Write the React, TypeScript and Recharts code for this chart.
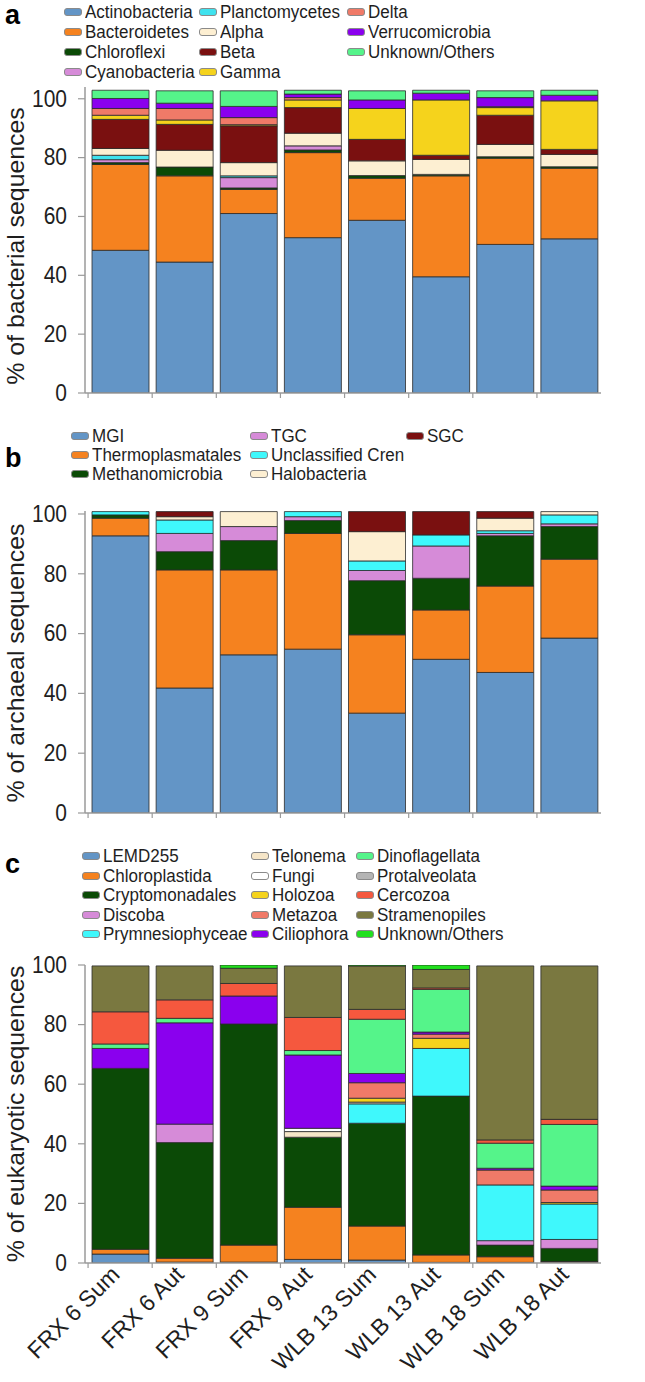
import React from 'react';
import { BarChart, Bar, XAxis, YAxis } from 'recharts';

const samples = ['FRX 6 Sum', 'FRX 6 Aut', 'FRX 9 Sum', 'FRX 9 Aut', 'WLB 13 Sum', 'WLB 13 Aut', 'WLB 18 Sum', 'WLB 18 Aut'];
const yTicks = [0, 20, 40, 60, 80, 100];

// ---- Panel a: bacteria ----
const bacteriaNames = ['Actinobacteria', 'Bacteroidetes', 'Chloroflexi', 'Cyanobacteria', 'Planctomycetes', 'Alpha', 'Beta', 'Gamma', 'Delta', 'Verrucomicrobia', 'Unknown/Others'];
const bacteriaColors = ['#6395c6', '#f5821f', '#0b4a06', '#d68bd8', '#3fe2ee', '#fdefd2', '#7a1010', '#f5d31c', '#f07a68', '#8a00ee', '#55f48a'];
const actinobacteria = [48.5, 44.5, 61.0, 52.8, 58.7, 39.5, 50.5, 52.4];
const bacteroidetes = [29.2, 29.3, 8.2, 28.9, 14.3, 34.3, 29.3, 24.0];
const chloroflexi = [0.6, 3.0, 0.5, 0.9, 0.9, 0.5, 0.5, 0.5];
const cyanobacteria = [1.0, 0, 3.5, 1.4, 0, 0, 0, 0];
const planctomycetes = [1.5, 0, 0.6, 0, 0, 0, 0, 0];
const alpha = [2.3, 5.7, 4.5, 4.3, 5.0, 5.1, 4.2, 4.2];
const beta = [9.9, 8.8, 12.5, 8.7, 7.3, 1.4, 9.9, 1.7];
const gamma = [1.4, 1.5, 0.4, 2.6, 10.5, 18.8, 2.6, 16.5];
const delta = [2.3, 3.9, 2.4, 0.8, 0, 0, 0.3, 0];
const verrucomicrobia = [3.4, 1.8, 3.8, 1.2, 2.9, 2.3, 3.1, 1.9];
const unknownBacteria = [2.8, 4.2, 5.3, 1.3, 3.1, 1.0, 2.3, 1.7];
const bacteriaValues = [actinobacteria, bacteroidetes, chloroflexi, cyanobacteria, planctomycetes, alpha, beta, gamma, delta, verrucomicrobia, unknownBacteria];

// ---- Panel b: archaea ----
const archaeaNames = ['MGI', 'Thermoplasmatales', 'Methanomicrobia', 'TGC', 'Unclassified Cren', 'Halobacteria', 'SGC'];
const archaeaColors = ['#6395c6', '#f5821f', '#0b4a06', '#d68bd8', '#3ff8fc', '#fdefd2', '#7a1010'];
const mgi = [92.7, 41.8, 52.9, 54.8, 33.4, 51.4, 47.0, 58.5];
const thermoplasmatales = [5.9, 39.5, 28.4, 38.7, 26.2, 16.5, 28.9, 26.4];
const methanomicrobia = [1.1, 6.1, 9.8, 4.3, 18.1, 10.6, 16.8, 10.9];
const tgc = [0, 6.1, 4.7, 1.3, 3.4, 10.8, 0.8, 0.9];
const unclassifiedCren = [1.1, 4.5, 0, 1.7, 3.2, 3.7, 0.9, 3.0];
const halobacteria = [0, 1.1, 5.0, 0, 9.8, 0, 4.2, 1.1];
const sgc = [0, 1.7, 0, 0, 6.7, 7.8, 2.2, 0];
const archaeaValues = [mgi, thermoplasmatales, methanomicrobia, tgc, unclassifiedCren, halobacteria, sgc];

// ---- Panel c: eukaryotes ----
const eukNames = ['LEMD255', 'Chloroplastida', 'Cryptomonadales', 'Discoba', 'Prymnesiophyceae', 'Telonema', 'Fungi', 'Holozoa', 'Metazoa', 'Ciliophora', 'Dinoflagellata', 'Protalveolata', 'Cercozoa', 'Stramenopiles', 'Unknown/Others'];
const eukColors = ['#6395c6', '#f5821f', '#0b4a06', '#d68bd8', '#3ff8fc', '#f6e6c8', '#ffffff', '#f5d31c', '#f07a68', '#8a00ee', '#55f48a', '#b4b4b4', '#f5583e', '#7a7840', '#22e01e'];
const lemd255 = [3.0, 0.3, 0.3, 1.2, 1.0, 0.2, 0.2, 0.2];
const chloroplastida = [1.6, 1.3, 5.7, 17.5, 11.4, 2.5, 1.9, 0.3];
const cryptomonadales = [60.7, 38.8, 74.2, 23.5, 34.5, 53.3, 3.9, 4.4];
const discoba = [0, 6.2, 0, 0, 0, 0, 1.5, 3.0];
const prymnesiophyceae = [0, 0, 0, 0, 6.5, 16.0, 18.7, 11.9];
const telonema = [0, 0, 0, 1.9, 0.6, 0, 0, 0];
const fungi = [0, 0, 0, 1.1, 0, 0, 0, 0];
const holozoa = [0, 0, 0, 0, 1.3, 3.4, 0, 0.5];
const metazoa = [0, 0, 0, 0, 5.2, 1.4, 5.0, 4.2];
const ciliophora = [6.7, 34.0, 9.4, 24.6, 3.1, 0.7, 0.6, 1.3];
const dinoflagellata = [1.5, 1.5, 0, 1.5, 18.2, 14.3, 8.4, 20.7];
const protalveolata = [0, 0, 0, 0, 0, 0, 0, 0];
const cercozoa = [10.8, 6.2, 4.2, 11.1, 3.3, 0.5, 1.1, 1.7];
const stramenopiles = [15.4, 11.4, 5.1, 17.3, 14.6, 6.2, 58.4, 51.5];
const unknownEuk = [0, 0, 1.1, 0, 0.3, 1.5, 0, 0];
const eukValues = [lemd255, chloroplastida, cryptomonadales, discoba, prymnesiophyceae, telonema, fungi, holozoa, metazoa, ciliophora, dinoflagellata, protalveolata, cercozoa, stramenopiles, unknownEuk];

const FONT = '"Liberation Sans", Arial, Helvetica, sans-serif';
const AXIS = '#9a9a9a';
const TEXT = '#1e1e1e';

function buildRows(names: string[], values: number[][]) {
  return samples.map((s, i) => {
    const row: Record<string, any> = { sample: s };
    names.forEach((n, k) => {
      row[n] = values[k][i];
    });
    return row;
  });
}

const BAND_HALF = 32;

const BoundaryTick = (props: any) => {
  const { x, y } = props;
  return <line x1={x - BAND_HALF} x2={x - BAND_HALF} y1={y} y2={y + 5} stroke={AXIS} strokeWidth={1.2} />;
};

const RotatedTick = (props: any) => {
  const { x, y, payload } = props;
  const ax = x + 1;
  const ay = y + 13;
  return (
    <g>
      <line x1={x - BAND_HALF} x2={x - BAND_HALF} y1={y} y2={y + 5} stroke={AXIS} strokeWidth={1.2} />
      <text
        x={0}
        y={0}
        transform={`translate(${ax}, ${ay}) rotate(-45)`}
        textAnchor="end"
        fontSize={23}
        fill={TEXT}
        fontFamily={FONT}
      >
        {payload.value}
      </text>
    </g>
  );
};

const YTick = (props: any) => {
  const { x, y, payload } = props;
  return (
    <text
      x={0}
      y={0}
      transform={`translate(${x}, ${y}) scale(1, 1.1)`}
      textAnchor="end"
      dominantBaseline="central"
      fontSize={21}
      fill={TEXT}
      fontFamily={FONT}
    >
      {payload.value}
    </text>
  );
};

type PanelProps = {
  names: string[];
  colors: string[];
  values: number[][];
  top: number;
  height: number;
  marginTop: number;
  marginBottom: number;
  xHeight: number;
  yMax: number;
  yLabel: string;
  yLabelCenter: number;
  rotatedLabels?: boolean;
};

function Panel(p: PanelProps) {
  const rows = buildRows(p.names, p.values);
  return (
    <div style={{ position: 'absolute', left: 0, top: p.top, width: 645, height: p.height }}>
      <BarChart
        width={645}
        height={p.height}
        data={rows}
        margin={{ top: p.marginTop, right: 44, bottom: p.marginBottom, left: 0 }}
        barSize={57}
        style={{ fontFamily: FONT }}
      >
        <XAxis
          dataKey="sample"
          height={p.xHeight}
          padding={{ left: 3, right: 0 }}
          axisLine={{ stroke: AXIS, strokeWidth: 1.5 }}
          tickLine={false}
          tickSize={0}
          tickMargin={0}
          interval={0}
          tick={p.rotatedLabels ? <RotatedTick /> : <BoundaryTick />}
        />
        <YAxis
          type="number"
          width={85}
          domain={[0, p.yMax]}
          allowDataOverflow
          ticks={yTicks}
          interval={0}
          tickSize={7}
          tickMargin={11}
          axisLine={{ stroke: AXIS, strokeWidth: 1.5 }}
          tickLine={{ stroke: AXIS, strokeWidth: 1.2 }}
          tick={<YTick />}
          label={{
            content: () => (
              <text
                x={0}
                y={0}
                transform={`translate(16, ${p.yLabelCenter}) scale(1, 1.08) rotate(-90)`}
                textAnchor="middle"
                dominantBaseline="central"
                fontSize={23}
                fill={TEXT}
                fontFamily={FONT}
              >
                {p.yLabel}
              </text>
            ),
          }}
        />
        {p.names.map((n, k) => (
          <Bar
            key={n}
            dataKey={n}
            stackId="s"
            fill={p.colors[k]}
            stroke="#2b2b2b"
            strokeWidth={0.8}
            isAnimationActive={false}
          />
        ))}
      </BarChart>
    </div>
  );
}

type LegendProps = {
  names: string[];
  colors: string[];
  rowsPerCol: number;
  colX: number[];
  rowY: number[];
};

function LegendBlock(l: LegendProps) {
  return (
    <>
      {l.names.map((n, i) => {
        const col = Math.floor(i / l.rowsPerCol);
        const row = i % l.rowsPerCol;
        return (
          <div
            key={n}
            style={{
              position: 'absolute',
              left: l.colX[col],
              top: l.rowY[row] - 10,
              height: 20,
              display: 'flex',
              alignItems: 'center',
              whiteSpace: 'nowrap',
              fontFamily: FONT,
              fontSize: 17,
              lineHeight: '20px',
              color: TEXT,
            }}
          >
            <span
              style={{
                display: 'inline-block',
                width: 16,
                height: 6,
                borderRadius: 3,
                background: l.colors[i],
                border: '1px solid #8a8a8a',
                marginRight: 3,
              }}
            />
            <span style={{ display: 'inline-block', transform: 'scaleY(1.1)' }}>{n}</span>
          </div>
        );
      })}
    </>
  );
}

const letterStyle: React.CSSProperties = {
  position: 'absolute',
  left: 5,
  fontFamily: FONT,
  fontWeight: 'bold',
  fontSize: 27,
  lineHeight: '30px',
  color: '#000',
};

export default function App() {
  return (
    <div style={{ position: 'absolute', left: 0, top: 0, width: 645, height: 1382, background: '#fff', overflow: 'hidden' }}>
      <div style={{ ...letterStyle, top: 0 }}>a</div>
      <LegendBlock names={bacteriaNames} colors={bacteriaColors} rowsPerCol={4} colX={[64, 199, 347]} rowY={[12, 32, 52, 72]} />
      <Panel
        names={bacteriaNames}
        colors={bacteriaColors}
        values={bacteriaValues}
        top={0}
        height={410}
        marginTop={87}
        marginBottom={7}
        xHeight={10}
        yMax={104}
        yLabel="% of bacterial sequences"
        yLabelCenter={246}
      />

      <div style={{ ...letterStyle, top: 443 }}>b</div>
      <LegendBlock names={archaeaNames} colors={archaeaColors} rowsPerCol={3} colX={[71, 250, 406]} rowY={[436, 455, 474]} />
      <Panel
        names={archaeaNames}
        colors={archaeaColors}
        values={archaeaValues}
        top={420}
        height={410}
        marginTop={91}
        marginBottom={7}
        xHeight={10}
        yMax={101}
        yLabel="% of archaeal sequences"
        yLabelCenter={243}
      />

      <div style={{ ...letterStyle, top: 849 }}>c</div>
      <LegendBlock names={eukNames} colors={eukColors} rowsPerCol={5} colX={[82, 251, 356]} rowY={[856, 875.5, 895, 914.5, 934]} />
      <Panel
        names={eukNames}
        colors={eukColors}
        values={eukValues}
        top={880}
        height={502}
        marginTop={85}
        marginBottom={0}
        xHeight={119}
        yMax={100}
        yLabel="% of eukaryotic sequences"
        yLabelCenter={234}
        rotatedLabels
      />
    </div>
  );
}
